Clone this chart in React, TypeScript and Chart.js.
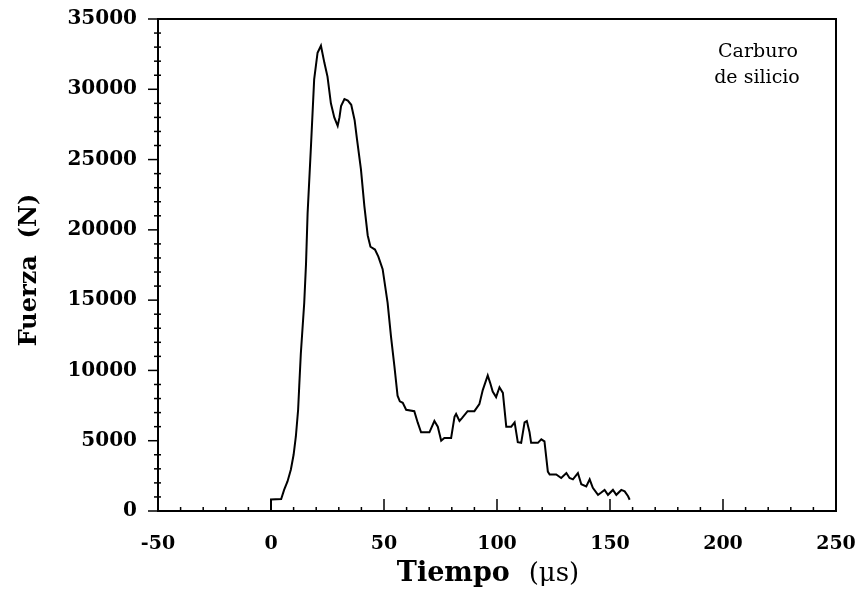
import React, { useEffect, useRef } from "react";
import { Chart, registerables } from "chart.js";

Chart.register(...registerables);

// Tiempo (µs)
const timeUs: number[] = [
  0, 0, 4.5, 5.8, 7.3, 8.8, 10, 11, 12, 12.5, 13.2, 14.7, 15.5, 16.2, 17.7, 19.1, 20.6, 22.1,
  23.6, 25, 26.5, 28, 29.5, 30.3, 31, 32.5, 34, 35.5, 37, 38, 39.8, 41.3, 42.8, 44, 46, 47.5,
  49.4, 51.6, 53.1, 54.6, 56, 57, 58.3, 59.8, 63.4, 64.9, 66.4, 70.1, 72.3, 73.8, 75.3, 76.7,
  79.7, 81.2, 81.9, 83.4, 84.5, 87, 90, 92.2, 93.7, 95.9, 97, 98.1, 99.6, 101.1, 102.6, 104.1,
  106.3, 107.8, 109.2, 110.7, 112.2, 113.2, 114.4, 115.1, 118.1, 119.6, 121, 122.5, 123.3,
  126.2, 128.4, 130.7, 132.1, 133.6, 135.8, 137.3, 139.5, 141, 142.4, 144.7, 146, 147.6, 149.1,
  151.3, 152.8, 155, 156.5, 158, 158.7,
];

// Fuerza (N)
const forceN: number[] = [
  0, 820, 850, 1500, 2100, 2950, 4000, 5300, 7200, 8900, 11200, 14800, 17600, 21200, 26000,
  30700, 32600, 33100, 31900, 30900, 29000, 28000, 27400, 28000, 28800, 29300, 29200, 28900,
  27800, 26500, 24300, 21700, 19600, 18800, 18600, 18100, 17200, 14800, 12400, 10300, 8200,
  7800, 7700, 7200, 7100, 6300, 5600, 5600, 6400, 6000, 5000, 5200, 5200, 6700, 6900, 6400,
  6600, 7100, 7100, 7600, 8600, 9650, 9100, 8500, 8100, 8800, 8400, 6000, 6000, 6300, 4900,
  4850, 6300, 6400, 5600, 4850, 4850, 5100, 4950, 2800, 2600, 2600, 2350, 2700, 2350, 2250,
  2700, 1900, 1750, 2250, 1650, 1150, 1300, 1500, 1150, 1500, 1150, 1500, 1400, 1050, 800,
];

const xMin = -50;
const xMax = 250;
const xMajorStep = 50;
const xMinorStep = 10;
const yMin = 0;
const yMax = 35000;
const yMajorStep = 5000;
const yMinorStep = 1000;

const xTitleMain = "Tiempo";
const xTitleUnit = "(\u03bcs)";
const yTitle = "Fuerza  (N)";
const noteLines = ["Carburo", "de silicio"];

const framePlugin = {
  id: "framePlugin",
  afterDraw(chart: any) {
    const { ctx, chartArea: a, scales } = chart;
    ctx.save();
    ctx.strokeStyle = "#000";
    ctx.fillStyle = "#000";
    ctx.lineWidth = 2;
    ctx.strokeRect(a.left, a.top, a.right - a.left, a.bottom - a.top);

    ctx.lineWidth = 1.5;
    scales.x.ticks.forEach((t: any) => {
      const px = scales.x.getPixelForValue(t.value);
      const major = Math.abs(t.value % xMajorStep) < 1e-6;
      ctx.beginPath();
      ctx.moveTo(px, a.bottom);
      ctx.lineTo(px, a.bottom - (major ? 12 : 4));
      ctx.stroke();
    });
    scales.y.ticks.forEach((t: any) => {
      const py = scales.y.getPixelForValue(t.value);
      const major = Math.abs(t.value % yMajorStep) < 1e-6;
      ctx.beginPath();
      if (major) {
        ctx.moveTo(a.left - 10, py);
        ctx.lineTo(a.left, py);
      } else {
        ctx.moveTo(a.left - 4, py);
        ctx.lineTo(a.left + 3, py);
      }
      ctx.stroke();
    });

    // y title
    ctx.save();
    ctx.translate(36, 270);
    ctx.rotate(-Math.PI / 2);
    ctx.font = "bold 24px 'DejaVu Serif'";
    ctx.textAlign = "center";
    ctx.textBaseline = "alphabetic";
    ctx.fillText(yTitle, 0, 0);
    ctx.restore();

    // x title
    ctx.textBaseline = "alphabetic";
    ctx.textAlign = "left";
    ctx.font = "bold 27px 'DejaVu Serif'";
    const mainW = ctx.measureText(xTitleMain + "  ").width;
    ctx.font = "26px 'DejaVu Serif'";
    const unitW = ctx.measureText(xTitleUnit).width;
    const startX = 488 - (mainW + unitW) / 2;
    ctx.font = "bold 27px 'DejaVu Serif'";
    ctx.fillText(xTitleMain, startX, 581);
    ctx.font = "26px 'DejaVu Serif'";
    ctx.fillText(xTitleUnit, startX + mainW, 581);

    // note
    ctx.font = "19px 'DejaVu Serif'";
    ctx.textAlign = "center";
    ctx.fillText(noteLines[0], 758, 57);
    ctx.fillText(noteLines[1], 757, 83);
    ctx.restore();
  },
};

export default function App() {
  const ref = useRef<HTMLCanvasElement | null>(null);
  useEffect(() => {
    if (!ref.current) return;
    const data = timeUs.map((x, i) => ({ x, y: forceN[i] }));
    const chart = new Chart(ref.current, {
      type: "line",
      data: {
        datasets: [
          {
            data,
            borderColor: "#000",
            borderWidth: 2,
            pointRadius: 0,
            tension: 0,
            fill: false,
          },
        ],
      },
      options: {
        animation: false,
        responsive: true,
        maintainAspectRatio: false,
        layout: { padding: { top: 19, right: 25, left: 0, bottom: 0 } },
        plugins: { legend: { display: false }, tooltip: { enabled: false } },
        scales: {
          x: {
            type: "linear",
            min: xMin,
            max: xMax,
            afterFit: (s: any) => {
              s.height = 91;
              s.paddingLeft = 0;
              s.paddingRight = 0;
              s.paddingTop = 0;
              s.paddingBottom = 0;
            },
            grid: { drawOnChartArea: false, drawTicks: false },
            border: { display: false },
            ticks: {
              stepSize: xMinorStep,
              autoSkip: false,
              maxRotation: 0,
              color: "#000",
              padding: 22,
              font: { family: "'DejaVu Serif'", size: 19, weight: "bold" },
              callback: (v: any) => (Number(v) % xMajorStep === 0 ? String(v) : ""),
            },
          },
          y: {
            type: "linear",
            min: yMin,
            max: yMax,
            afterFit: (s: any) => {
              s.width = 158;
              s.paddingLeft = 0;
              s.paddingRight = 0;
              s.paddingTop = 0;
              s.paddingBottom = 0;
            },
            grid: { drawOnChartArea: false, drawTicks: false },
            border: { display: false },
            ticks: {
              stepSize: yMinorStep,
              autoSkip: false,
              color: "#000",
              padding: 21,
              font: { family: "'DejaVu Serif'", size: 20, weight: "bold" },
              callback: (v: any) => (Number(v) % yMajorStep === 0 ? String(v) : ""),
            },
          },
        },
      },
      plugins: [framePlugin],
    });
    return () => chart.destroy();
  }, []);
  return (
    <div style={{ position: "fixed", left: 0, top: 0, width: 861, height: 602, background: "#fff" }}>
      <canvas ref={ref} />
    </div>
  );
}
